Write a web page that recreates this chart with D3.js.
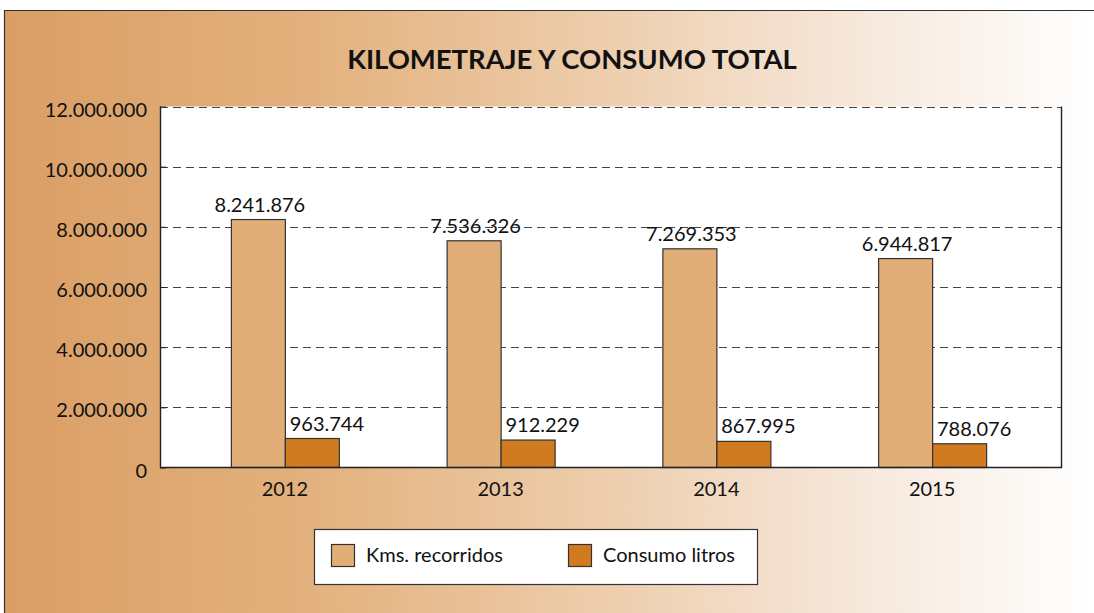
<!DOCTYPE html>
<html>
<head>
<meta charset="utf-8">
<script src="https://cdn.jsdelivr.net/npm/d3@7"></script>
<style>
  html, body { margin: 0; padding: 0; background: #ffffff; }
  svg { display: block; }
  text { font-family: Lato, "Open Sans", sans-serif; fill: #111; }
</style>
</head>
<body>
<svg id="chart" width="1094" height="613"></svg>
<script>
// Yearly totals for the fleet
const years = ["2012", "2013", "2014", "2015"];
const kmsRecorridos = [8241876, 7536326, 7269353, 6944817];
const consumoLitros = [963744, 912229, 867995, 788076];
const seriesNames = ["Kms. recorridos", "Consumo litros"];
const yTicks = [0, 2000000, 4000000, 6000000, 8000000, 10000000, 12000000];
const title = "KILOMETRAJE Y CONSUMO TOTAL";

const colors = ["#E1AE78", "#D07B1F"];
const W = 1094, H = 613;
const plot = { left: 160, right: 1062, top: 106.5, bottom: 467.5 };

const svg = d3.select("#chart");

// Number format with dots as thousands separator
const loc = d3.formatLocale({ decimal: ",", thousands: ".", grouping: [3], currency: ["", "€"] });
const fmt = loc.format(",d");

// Background panel with horizontal warm gradient
const defs = svg.append("defs");
const grad = defs.append("linearGradient").attr("id", "bg").attr("x1", "0%").attr("x2", "100%").attr("y1", "0%").attr("y2", "0%");
[["0%", "#DA9E65"], ["28%", "#E3B17D"], ["52%", "#ECCAA7"], ["78%", "#F6E7DA"], ["100%", "#FFFFFF"]]
  .forEach(([o, c]) => grad.append("stop").attr("offset", o).attr("stop-color", c));

svg.append("rect").attr("x", 4).attr("y", 10).attr("width", W - 4).attr("height", H - 10)
  .attr("fill", "url(#bg)");
svg.append("path").attr("d", `M4.5,${H} V10.5 H${W}`).attr("fill", "none").attr("stroke", "#333").attr("stroke-width", 1.2);

// Title
const titleText = svg.append("text").attr("x", 572).attr("y", 69).attr("text-anchor", "middle")
  .attr("font-weight", 700).attr("font-size", 26).text(title);
const tl = titleText.node().getComputedTextLength();
titleText.attr("font-size", 26 * 450 / tl);

// Scales
const x = d3.scaleBand().domain(years).range([177, 1040]).paddingInner(0).paddingOuter(0);
const barW = 54;
const y = d3.scaleLinear().domain([0, 12000000]).range([plot.bottom, plot.top]);

// Plot area
svg.append("rect").attr("x", plot.left).attr("y", plot.top).attr("width", plot.right - plot.left)
  .attr("height", plot.bottom - plot.top).attr("fill", "#ffffff");

// Dashed grid lines
svg.append("g").selectAll("line").data(yTicks.filter(d => d > 0)).join("line")
  .attr("x1", plot.left).attr("x2", plot.right)
  .attr("y1", d => Math.round(y(d)) + 0.5).attr("y2", d => Math.round(y(d)) + 0.5)
  .attr("stroke", "#444").attr("stroke-width", 1).attr("stroke-dasharray", "8,5");

// Y axis
const yAxis = d3.axisLeft(y).tickValues(yTicks).tickFormat(fmt).tickSize(-6).tickPadding(13);
const gy = svg.append("g").attr("transform", `translate(${plot.left},0)`).call(yAxis);
gy.select(".domain").remove();
gy.selectAll(".tick line").attr("stroke", "#222");
gy.selectAll(".tick text").attr("font-size", 20).attr("font-family", "Lato, sans-serif")
  .attr("fill", "#111").attr("dy", "0.48em");

// Bars
const seriesVals = [kmsRecorridos, consumoLitros];
seriesVals.forEach((vals, s) => {
  svg.append("g").selectAll("rect").data(years).join("rect")
    .attr("x", d => x(d) + x.bandwidth() / 2 - barW + s * barW + 0.5)
    .attr("y", (d, i) => y(vals[i]))
    .attr("width", barW)
    .attr("height", (d, i) => plot.bottom - y(vals[i]))
    .attr("fill", colors[s]).attr("stroke", "#333").attr("stroke-width", 1.2);
});

// Value labels
seriesVals.forEach((vals, s) => {
  svg.append("g").selectAll("text").data(years).join("text")
    .attr("x", d => x(d) + x.bandwidth() / 2 - barW / 2 + s * barW + (s === 1 ? 15 : 2))
    .attr("y", (d, i) => y(vals[i]) - 8)
    .attr("text-anchor", "middle").attr("font-size", 20)
    .text((d, i) => fmt(vals[i]));
});

// Axis frame: left, bottom, right solid
svg.append("path")
  .attr("d", `M${plot.left + 0.5},${plot.top} V${plot.bottom} H${plot.right - 0.5} V${plot.top}`)
  .attr("fill", "none").attr("stroke", "#222").attr("stroke-width", 1.4);

// X axis labels
const xAxis = d3.axisBottom(x).tickSize(0).tickPadding(14);
const gx = svg.append("g").attr("transform", `translate(0,${plot.bottom})`).call(xAxis);
gx.select(".domain").remove();
gx.selectAll(".tick text").attr("font-size", 20).attr("font-family", "Lato, sans-serif")
  .attr("fill", "#111").attr("dy", "0.71em");

// Legend
const lg = svg.append("g");
lg.append("rect").attr("x", 314.5).attr("y", 529.5).attr("width", 443).attr("height", 55)
  .attr("fill", "#fff").attr("stroke", "#333").attr("stroke-width", 1.2);
const legendX = [331, 568];
seriesNames.forEach((name, i) => {
  lg.append("rect").attr("x", legendX[i] + 0.5).attr("y", 544.5).attr("width", 23).attr("height", 22)
    .attr("fill", colors[i]).attr("stroke", "#333").attr("stroke-width", 1.2);
  lg.append("text").attr("x", legendX[i] + 35).attr("y", 562).attr("font-size", 20).text(name);
});
</script>
</body>
</html>
